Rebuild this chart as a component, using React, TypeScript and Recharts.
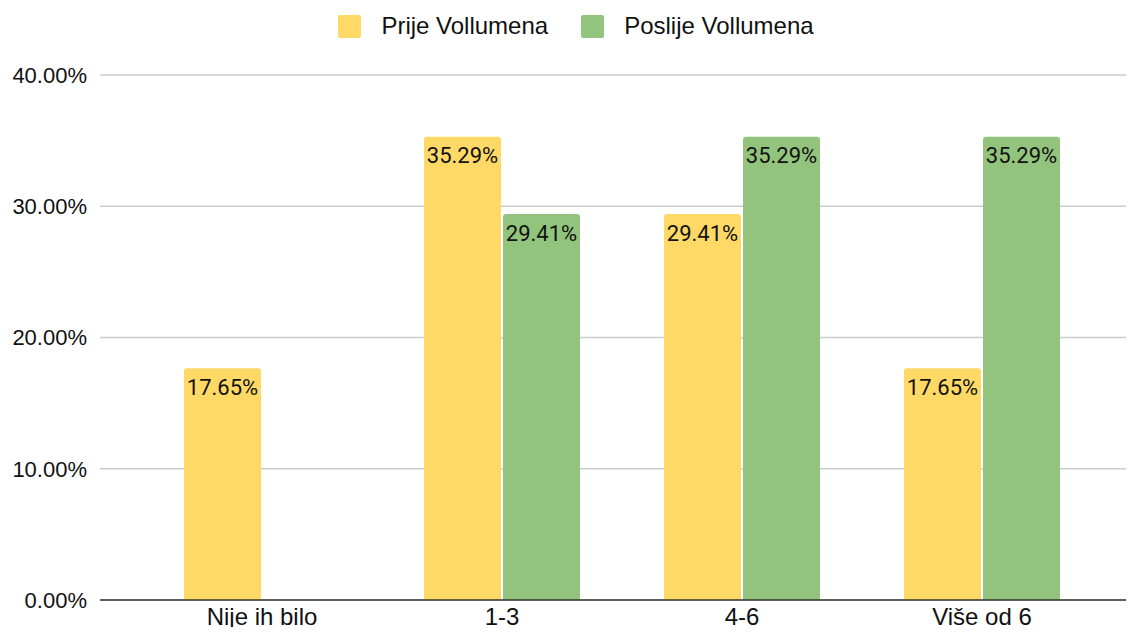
import { BarChart, Bar, XAxis, YAxis, CartesianGrid, Legend, LabelList } from 'recharts';

const categories = ['Nije ih bilo', '1-3', '4-6', 'Više od 6'];
const prije = [0.1765, 0.3529, 0.2941, 0.1765];
const poslije = [null, 0.2941, 0.3529, 0.3529];
const yTicks = [0, 0.1, 0.2, 0.3, 0.4];

const seriesNames = ['Prije Vollumena', 'Poslije Vollumena'];
const seriesColors = ['#ffd966', '#93c47d'];

const data = categories.map((name, i) => ({ name, prije: prije[i], poslije: poslije[i] }));

const axisFont = '"Liberation Sans", Arial, sans-serif';

const pct = (v: any) => (v == null ? '' : (Number(v) * 100).toFixed(2) + '%');

function LegendBox() {
  return (
    <div
      style={{
        height: 65,
        display: 'flex',
        justifyContent: 'center',
        alignItems: 'flex-start',
        paddingTop: 2,
        paddingLeft: 18,
        boxSizing: 'border-box',
        fontFamily: axisFont,
        fontSize: 24,
        color: '#111',
      }}
    >
      {seriesNames.map((n, i) => (
        <div key={n} style={{ display: 'flex', alignItems: 'center', marginLeft: i ? 33 : 0 }}>
          <span
            style={{
              display: 'inline-block',
              width: 23,
              height: 23,
              borderRadius: 2,
              background: seriesColors[i],
              marginRight: 20,
            }}
          />
          <span>{n}</span>
        </div>
      ))}
    </div>
  );
}

export default function App() {
  return (
    <div style={{ margin: -8, width: 1134, height: 635, background: '#fff' }}>
      <BarChart
        width={1134}
        height={635}
        data={data}
        margin={{ top: 10, right: 0, bottom: 5, left: 0 }}
        barCategoryGap="17.5%"
        barGap={2}
      >
        <CartesianGrid vertical={false} stroke="#cccccc" strokeWidth={1.5} />
        <XAxis
          dataKey="name"
          height={30}
          padding={{ left: 42, right: 32 }}
          tickLine={false}
          tickSize={0}
          tickMargin={8}
          axisLine={{ stroke: '#333', strokeWidth: 1.5 }}
          tick={{ fill: '#111', fontSize: 24, fontFamily: axisFont }}
          interval={0}
        />
        <YAxis
          width={100}
          domain={[0, 0.4]}
          ticks={yTicks}
          tickFormatter={pct}
          axisLine={false}
          tickLine={false}
          tickSize={6}
          tickMargin={7}
          tick={{ fill: '#111', fontSize: 22, fontFamily: axisFont }}
        />
        <Legend verticalAlign="top" content={() => <LegendBox />} wrapperStyle={{ top: 10, left: 0, width: 1134 }} />
        <Bar dataKey="prije" name={seriesNames[0]} fill={seriesColors[0]} radius={[3, 3, 0, 0]} isAnimationActive={false}>
          <LabelList
            dataKey="prije"
            position="insideTop"
            offset={11}
            formatter={pct}
            style={{ fill: '#111', fontSize: 22, fontFamily: 'Roboto, sans-serif' }}
          />
        </Bar>
        <Bar dataKey="poslije" name={seriesNames[1]} fill={seriesColors[1]} radius={[3, 3, 0, 0]} isAnimationActive={false}>
          <LabelList
            dataKey="poslije"
            position="insideTop"
            offset={11}
            formatter={pct}
            style={{ fill: '#111', fontSize: 22, fontFamily: 'Roboto, sans-serif' }}
          />
        </Bar>
      </BarChart>
    </div>
  );
}
